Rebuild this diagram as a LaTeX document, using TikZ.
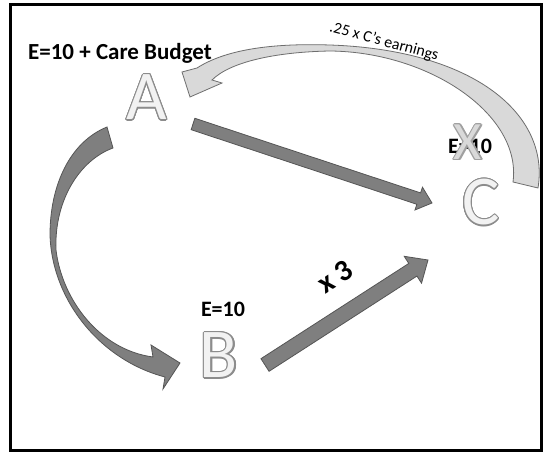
\documentclass[tikz,border=0pt]{standalone}
\usepackage{fontspec}
\setmainfont{Carlito}
\usepackage{contour}
\contourlength{1.1pt}
\contournumber{20}
\usetikzlibrary{calc}

\definecolor{darkarrow}{HTML}{7F7F7F}
\definecolor{darkedge}{HTML}{555555}
\definecolor{lightarrow}{HTML}{D9D9D9}
\definecolor{lightedge}{HTML}{6E6E6E}
\definecolor{letterfill}{HTML}{F2F2F2}
\definecolor{letteredge}{HTML}{8C8C8C}
\definecolor{crossfill}{HTML}{E4E4E4}
\definecolor{crossedge}{HTML}{A0A0A0}

% straight block arrow: tail, tip, half shaft width, half head width, head length
\newcommand\blockarrow[5]{%
  \coordinate (hb) at ($(#2)!#5!(#1)$);
  \filldraw[heavyarrow]
    ($(#1)!#3!90:(#2)$) -- ($(hb)!#3!90:(#2)$) -- ($(hb)!#4!90:(#2)$) -- (#2)
    -- ($(hb)!#4!-90:(#2)$) -- ($(hb)!#3!-90:(#2)$) -- ($(#1)!#3!-90:(#2)$) -- cycle;
}

\tikzset{
  heavyarrow/.style={fill=darkarrow, draw=darkedge, line width=0.8pt, line join=miter},
  lightribbon/.style={fill=lightarrow, draw=lightedge, line width=0.8pt},
  bigletter/.style={font=\fontsize{70}{70}\selectfont, text=letterfill, inner sep=0pt},
  energy/.style={font=\fontsize{22}{22}\selectfont\bfseries, text=black, inner sep=0pt},
}

\begin{document}
\begin{tikzpicture}[x=1pt,y=-1pt]
  \useasboundingbox (0,0) rectangle (544,454);
  \fill[white] (0,0) rectangle (544,454);
  \draw[line width=3pt, black] (10,5) rectangle (541,451);

  % the three parties
  \node[bigletter] (A) at (147,98) {\contour{letteredge}{A}};
  \node[bigletter] (B) at (219,356) {\contour{letteredge}{B}};
  \node[bigletter] (C) at (481,203) {\contour{letteredge}{C}};

  % ends of the straight flows
  \coordinate (ac-tail) at (193,124);
  \coordinate (ac-tip)  at (432,203);
  \coordinate (bc-tail) at (265,365);
  \coordinate (bc-tip)  at (428,260);

  % A -> C and B -> C
  \blockarrow{ac-tail}{ac-tip}{6pt}{12pt}{14pt}
  \blockarrow{bc-tail}{bc-tip}{7.5pt}{16pt}{18pt}

  % A -> B, curved ribbon arrow
  \filldraw[heavyarrow]
    (107,127) .. controls (70,142) and (50,185) .. (50,235)
    .. controls (52,300) and (100,360) .. (165,377)
    -- (163,389) -- (180,363) -- (151,345) -- (153,357)
    .. controls (100,350) and (62,300) .. (56,250)
    .. controls (54,200) and (80,160) .. (113,148) -- cycle;

  % C -> A, share of C's earnings
  \filldraw[lightribbon]
    (538,188) .. controls (550,115) and (475,50) .. (330,45)
    .. controls (270,43) and (225,50) .. (197,68)
    -- (182,72) -- (190,97) -- (222,83) -- (212,80)
    .. controls (230,62) and (275,52) .. (330,51)
    .. controls (430,52) and (522,115) .. (513,182) -- cycle;

  % labels
  \node[energy, font=\fontsize{23}{23}\selectfont\bfseries] (ea) at (120,53) {E=10 + Care Budget};
  \node[energy] (eb) at (223,309) {E=10};
  \node[energy] (ec) at (470,146) {E=10};
  \node[font=\fontsize{54}{54}\selectfont, text=crossfill, inner sep=0pt, opacity=0.85]
    (cross) at (468,143) {\contour{crossedge}{X}};

  \node[font=\fontsize{16}{16}\selectfont, rotate=-15, inner sep=0pt] (share) at (384,42)
    {.25 x C’s earnings};
  \node[font=\fontsize{30}{30}\selectfont\bfseries, rotate=33, inner sep=0pt] (times) at (335,277)
    {x 3};
\end{tikzpicture}
\end{document}
